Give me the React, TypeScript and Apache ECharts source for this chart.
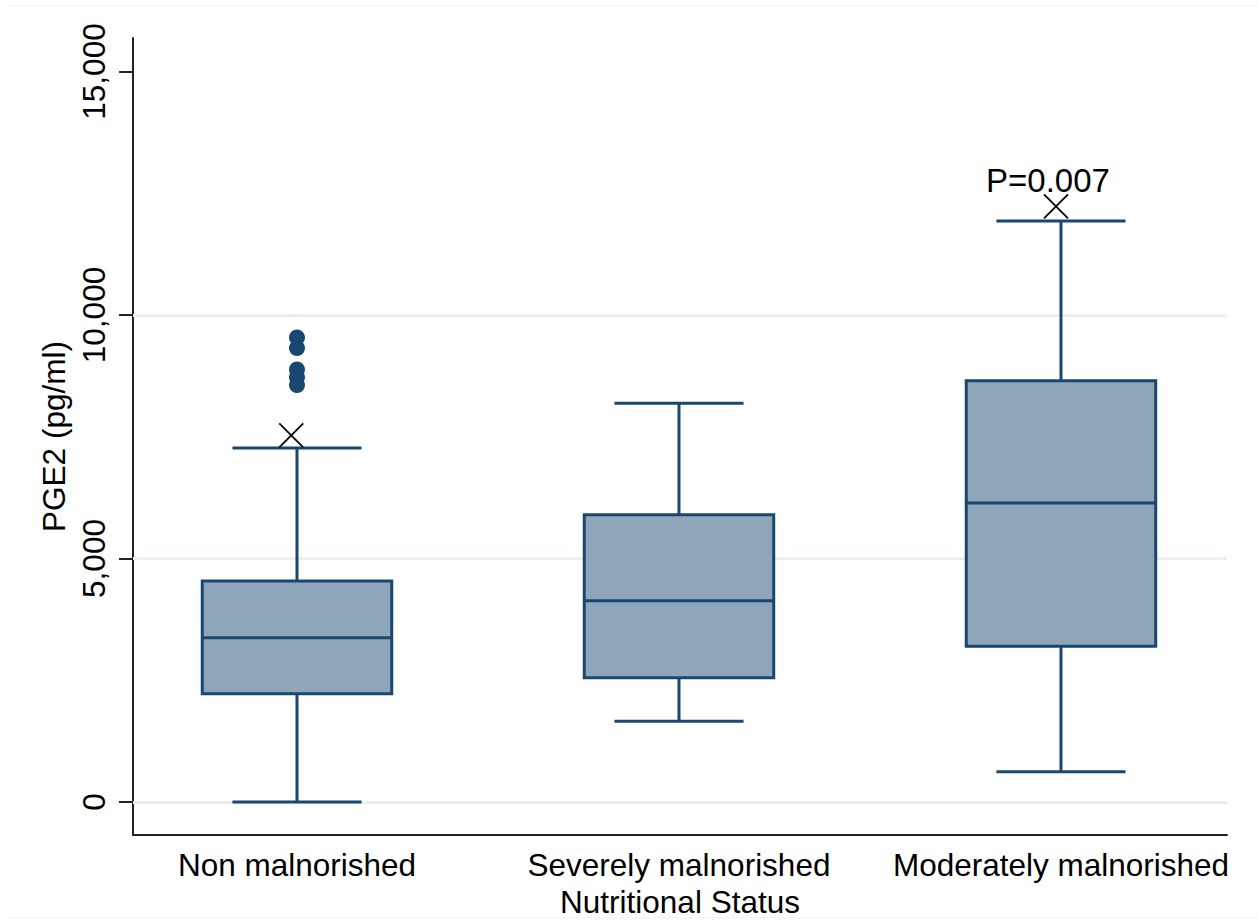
import React, { useEffect, useRef } from "react";
import * as echarts from "echarts";

const categories = ["Non malnorished", "Severely malnorished", "Moderately malnorished"];
// [position, lower whisker, Q1, median, Q3, upper whisker]
const boxStats = [
  [1, 0, 2220, 3370, 4540, 7270],
  [2, 1660, 2550, 4130, 5900, 8190],
  [3, 620, 3200, 6140, 8650, 11930],
];
const outliers = [
  [1, 9540],
  [1, 9320],
  [1, 8880],
  [1, 8720],
  [1, 8560],
];
// X markers (mean)
const crossMarks = [
  [0.985, 7530],
  [2.987, 12230],
];
const annotations = [[2.966, 12760, "P=0.007"]];
const yTicks = [0, 5000, 10000, 15000];
const gridValues = [0, 5000, 10000];

const NAVY = "#1a476f";
const FILL = "#8fa6ba";
const FONT = "Liberation Sans, Arial, sans-serif";

export default function App() {
  const ref = useRef<HTMLDivElement>(null);
  useEffect(() => {
    const chart = echarts.init(ref.current!, null, { renderer: "svg" });
    const boxHalf = 0.248;
    const capHalf = 0.169;
    chart.setOption({
      animation: false,
      backgroundColor: "#ffffff",
      grid: { left: 133, right: 31, top: 38, bottom: 85, containLabel: false, outerBoundsMode: "none" },
      graphic: [
        { type: "line", shape: { x1: 9, y1: 6, x2: 1258, y2: 6 }, style: { stroke: "#eef0f0", lineWidth: 1 } },
        { type: "line", shape: { x1: 9, y1: 918, x2: 1258, y2: 918 }, style: { stroke: "#eef0f0", lineWidth: 1 } },
      ],
      xAxis: {
        type: "value",
        min: 0.5707,
        max: 3.4346,
        name: "Nutritional Status",
        nameLocation: "middle",
        nameGap: 44,
        nameTextStyle: { fontSize: 31.5, color: "#000", fontFamily: FONT },
        splitLine: { show: false },
        axisLine: { show: true, onZero: false, lineStyle: { color: "#222", width: 2 } },
        axisTick: { show: false },
        axisLabel: {
          customValues: [1, 2, 3],
          formatter: (v: number) => categories[Math.round(v) - 1] ?? "",
          fontSize: 31.5,
          color: "#000",
          fontFamily: FONT,
          margin: 14,
        },
      },
      yAxis: {
        type: "value",
        min: -678,
        max: 15688,
        name: "PGE2 (pg/ml)",
        nameLocation: "middle",
        nameGap: 50,
        nameTextStyle: { fontSize: 31.5, color: "#000", fontFamily: FONT },
        splitLine: { show: false },
        axisLine: { show: true, lineStyle: { color: "#222", width: 2 } },
        axisTick: { show: true, customValues: yTicks, length: 14, lineStyle: { color: "#222", width: 2 } },
        axisLabel: {
          customValues: yTicks,
          rotate: 90,
          formatter: (v: number) => v.toLocaleString("en-US"),
          fontSize: 31.5,
          color: "#000",
          fontFamily: FONT,
          margin: 23,
        },
      },
      series: [
        {
          type: "line",
          z: 0,
          data: [],
          markLine: {
            silent: true,
            symbol: "none",
            label: { show: false },
            lineStyle: { color: "#e8f0f2", width: 3, type: "solid" },
            data: gridValues.map((v) => ({ yAxis: v })),
          },
        },
        {
          type: "custom",
          z: 5,
          data: boxStats,
          clip: false,
          renderItem: (params: any, api: any) => {
            const x = api.value(0);
            const lo = api.coord([x, api.value(1)]);
            const q1 = api.coord([x, api.value(2)]);
            const med = api.coord([x, api.value(3)]);
            const q3 = api.coord([x, api.value(4)]);
            const hi = api.coord([x, api.value(5)]);
            const bl = api.coord([x - boxHalf, 0])[0];
            const br = api.coord([x + boxHalf, 0])[0];
            const cl = api.coord([x - capHalf, 0])[0];
            const cr = api.coord([x + capHalf, 0])[0];
            const cx = lo[0];
            const ls = { stroke: NAVY, lineWidth: 3 };
            return {
              type: "group",
              children: [
                { type: "line", shape: { x1: cx, y1: q3[1], x2: cx, y2: hi[1] }, style: ls },
                { type: "line", shape: { x1: cx, y1: q1[1], x2: cx, y2: lo[1] }, style: ls },
                { type: "line", shape: { x1: cl, y1: hi[1], x2: cr, y2: hi[1] }, style: ls },
                { type: "line", shape: { x1: cl, y1: lo[1], x2: cr, y2: lo[1] }, style: ls },
                {
                  type: "rect",
                  shape: { x: bl, y: q3[1], width: br - bl, height: q1[1] - q3[1] },
                  style: { fill: FILL, stroke: NAVY, lineWidth: 3 },
                },
                { type: "line", shape: { x1: bl, y1: med[1], x2: br, y2: med[1] }, style: ls },
              ],
            };
          },
        },
        {
          type: "scatter",
          z: 6,
          data: outliers,
          symbol: "circle",
          symbolSize: 16,
          itemStyle: { color: NAVY, opacity: 1 },
        },
        {
          type: "custom",
          z: 7,
          data: crossMarks,
          clip: false,
          renderItem: (params: any, api: any) => {
            const p = api.coord([api.value(0), api.value(1)]);
            const h = 12;
            const s = { stroke: "#000", lineWidth: 1.8 };
            return {
              type: "group",
              children: [
                { type: "line", shape: { x1: p[0] - h, y1: p[1] - h, x2: p[0] + h, y2: p[1] + h }, style: s },
                { type: "line", shape: { x1: p[0] - h, y1: p[1] + h, x2: p[0] + h, y2: p[1] - h }, style: s },
              ],
            };
          },
        },
        {
          type: "custom",
          z: 8,
          data: annotations,
          clip: false,
          renderItem: (params: any, api: any) => {
            const item = annotations[params.dataIndex];
            const p = api.coord([item[0] as number, item[1] as number]);
            return {
              type: "text",
              x: p[0],
              y: p[1],
              style: {
                text: item[2] as string,
                fontSize: 33,
                fontFamily: FONT,
                fill: "#000",
                align: "center",
                verticalAlign: "middle",
              },
            };
          },
        },
      ],
    });
    return () => chart.dispose();
  }, []);
  return (
    <div
      ref={ref}
      style={{ position: "fixed", left: 0, top: 0, width: 1258, height: 920, background: "#fff" }}
    />
  );
}
